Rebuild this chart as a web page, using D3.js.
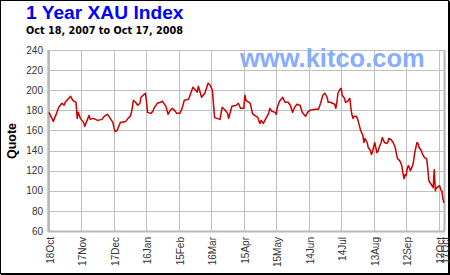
<!DOCTYPE html>
<html>
<head>
<meta charset="utf-8">
<script src="https://cdn.jsdelivr.net/npm/d3@7"></script>
<style>
body { margin: 0; background: #fff; }
svg { display: block; }
.axis text { font-family: "Liberation Sans", Arial, sans-serif; font-size: 10px; fill: #333; }
.axis .domain { display: none; }
.axis line { stroke: #c0c0c0; shape-rendering: crispEdges; }
</style>
</head>
<body>
<div class="chart"></div>
<script>
// XAU index quotes
var dates = [
  "2007-10-18","2007-10-22","2007-10-25","2007-10-27","2007-10-30","2007-11-01","2007-11-02","2007-11-07",
  "2007-11-09","2007-11-12","2007-11-13","2007-11-14","2007-11-16","2007-11-19","2007-11-20","2007-11-24",
  "2007-11-25","2007-11-28","2007-12-02","2007-12-06","2007-12-08","2007-12-11","2007-12-13","2007-12-16",
  "2007-12-17","2007-12-18","2007-12-20","2007-12-21","2007-12-23","2007-12-28","2007-12-30","2008-01-01",
  "2008-01-02","2008-01-03","2008-01-04","2008-01-06","2008-01-08","2008-01-10","2008-01-11","2008-01-13",
  "2008-01-15","2008-01-16","2008-01-17","2008-01-20","2008-01-22","2008-01-23","2008-01-26","2008-01-29",
  "2008-01-31","2008-02-03","2008-02-04","2008-02-05","2008-02-07","2008-02-09","2008-02-11","2008-02-13",
  "2008-02-16","2008-02-18","2008-02-20","2008-02-24","2008-02-28","2008-03-03","2008-03-04","2008-03-07",
  "2008-03-10","2008-03-13","2008-03-15","2008-03-17","2008-03-18","2008-03-19","2008-03-21","2008-03-24",
  "2008-03-26","2008-03-29","2008-03-31","2008-04-01","2008-04-04","2008-04-08","2008-04-10","2008-04-12",
  "2008-04-15","2008-04-16","2008-04-17","2008-04-21","2008-04-23","2008-04-25","2008-04-28","2008-04-29",
  "2008-04-30","2008-05-01","2008-05-03","2008-05-06","2008-05-08","2008-05-09","2008-05-11","2008-05-14",
  "2008-05-15","2008-05-16","2008-05-18","2008-05-21","2008-05-23","2008-05-26","2008-05-28","2008-05-30",
  "2008-06-01","2008-06-03","2008-06-06","2008-06-08","2008-06-11","2008-06-13","2008-06-15","2008-06-20",
  "2008-06-23","2008-06-25","2008-06-27","2008-06-29","2008-07-01","2008-07-02","2008-07-04","2008-07-08",
  "2008-07-09","2008-07-10","2008-07-11","2008-07-13","2008-07-14","2008-07-15","2008-07-17","2008-07-18",
  "2008-07-20","2008-07-22","2008-07-23","2008-07-24","2008-07-25","2008-07-26","2008-07-28","2008-07-29",
  "2008-07-30","2008-08-01","2008-08-03","2008-08-04","2008-08-05","2008-08-07","2008-08-08","2008-08-10",
  "2008-08-11","2008-08-12","2008-08-14","2008-08-15","2008-08-16","2008-08-17","2008-08-18","2008-08-20",
  "2008-08-21","2008-08-23","2008-08-25","2008-08-26","2008-08-27","2008-08-29","2008-08-31","2008-09-02",
  "2008-09-03","2008-09-04","2008-09-06","2008-09-07","2008-09-08","2008-09-09","2008-09-10","2008-09-11",
  "2008-09-12","2008-09-13","2008-09-14","2008-09-15","2008-09-16","2008-09-18","2008-09-19","2008-09-20",
  "2008-09-21","2008-09-22","2008-09-23","2008-09-24","2008-09-26","2008-09-27","2008-09-29","2008-10-01",
  "2008-10-02","2008-10-03","2008-10-06","2008-10-07","2008-10-08","2008-10-09","2008-10-10","2008-10-13",
  "2008-10-14","2008-10-15","2008-10-16","2008-10-17"
];
var quotes = [
  178,169,177,183,187,185,188,194,
  190,188,172,178,172,168,164,175,
  171,172,170,171,174,176,173,168,
  163,159,160,163,168,169,172,174,
  177,183,190,188,185,187,193,195,
  197,190,178,177,179,182,187,188,
  189,184,180,176,180,182,180,177,
  177,182,190,191,203,198,204,193,
  197,207,205,200,186,173,172,171,
  183,180,177,172,184,185,187,182,
  182,195,190,187,177,175,173,169,
  167,170,167,173,177,182,179,178,
  176,183,189,193,188,188,185,178,
  183,186,185,178,174,178,180,181,
  181,187,195,197,193,188,188,186,
  182,188,197,201,202,195,192,188,
  189,192,182,175,172,174,174,172,
  168,160,155,148,152,148,143,140,
  136,139,148,143,138,139,143,148,
  153,148,147,148,152,151,148,143,
  137,132,130,128,125,118,112,116,
  115,122,125,123,120,125,130,138,
  143,148,147,143,140,137,133,132,
  122,110,105,103,121,100,103,105,
  101,100,92,88
];
var yTicks = [60, 80, 100, 120, 140, 160, 180, 200, 220, 240];
var xTickDates = ["2007-10-18","2007-11-17","2007-12-17","2008-01-16","2008-02-15","2008-03-16",
  "2008-04-15","2008-05-15","2008-06-14","2008-07-14","2008-08-13","2008-09-12","2008-10-12","2008-10-17"];

var titleText = "1 Year XAU Index";
var subTitle = "Oct 18, 2007 to Oct 17, 2008";
var yAxisTitle = "Quote";

var W = 450, H = 275;
var margin = {top: 50, right: 6, bottom: 44, left: 49};
var w = W - margin.left - margin.right;
var h = H - margin.top - margin.bottom;

var parse = d3.timeParse("%Y-%m-%d");
var data = dates.map(function(d, i) { return {date: parse(d), close: quotes[i]}; });
var tickDates = xTickDates.map(parse);

var x = d3.scaleTime().domain([parse("2007-10-18"), parse("2008-10-17")]).range([0, w]);
var y = d3.scaleLinear().domain([60, 240]).range([h, 0]);

var svg = d3.select(".chart").append("svg")
  .attr("width", W).attr("height", H);

// frame
svg.append("rect").attr("x", 0.5).attr("y", 0.5).attr("width", W - 2).attr("height", H - 2)
  .attr("fill", "#fff").attr("stroke", "#000").attr("stroke-width", 1);
svg.append("line").attr("x1", W - 0.5).attr("x2", W - 0.5).attr("y1", 1).attr("y2", H)
  .attr("stroke", "#000");
svg.append("line").attr("x1", 1).attr("x2", W).attr("y1", H - 0.5).attr("y2", H - 0.5)
  .attr("stroke", "#000");

svg.append("text").attr("x", 26).attr("y", 19)
  .style("font-family", "'Liberation Sans', Arial, sans-serif")
  .style("font-weight", "bold").style("font-size", "19.2px")
  .attr("fill", "#0000ff").text(titleText);

svg.append("text").attr("x", 26).attr("y", 34)
  .style("font-family", "'DejaVu Sans', Verdana, sans-serif")
  .style("font-weight", "bold").style("font-size", "9.7px")
  .attr("fill", "#000").text(subTitle);

var g = svg.append("g").attr("transform", "translate(" + margin.left + "," + margin.top + ")");

// y grid + labels
var yAxis = d3.axisLeft(y).tickValues(yTicks).tickSizeInner(-w).tickSizeOuter(0).tickPadding(6);
g.append("g").attr("class", "y axis").call(yAxis);

// x grid + rotated labels
var xAxis = d3.axisBottom(x).tickValues(tickDates).tickSizeInner(-h).tickSizeOuter(0)
  .tickPadding(6).tickFormat(d3.timeFormat("%d%b"));
g.append("g").attr("class", "x axis").attr("transform", "translate(0," + h + ")")
  .call(xAxis)
  .selectAll("text")
  .attr("transform", "rotate(-90)")
  .attr("text-anchor", "end")
  .attr("x", -6).attr("y", 0).attr("dy", "0.45em");

// heavier frame of plot
g.append("line").attr("x1", -0.5).attr("x2", -0.5).attr("y1", 0).attr("y2", h + 1)
  .attr("stroke", "#b8b8b8").attr("stroke-width", 2.5);
g.append("line").attr("x1", -1).attr("x2", w + 1).attr("y1", h + 0.5).attr("y2", h + 0.5)
  .attr("stroke", "#b8b8b8").attr("stroke-width", 2);
g.append("line").attr("x1", w + 0.5).attr("x2", w + 0.5).attr("y1", 0).attr("y2", h)
  .attr("stroke", "#b8b8b8").attr("stroke-width", 2);

// watermark
svg.append("text").attr("x", 240).attr("y", 67)
  .style("font-family", "'Liberation Sans', Arial, sans-serif")
  .style("font-weight", "bold").style("font-size", "25.5px")
  .attr("fill", "#86adff").text("www.kitco.com");

var valueline = d3.line()
  .x(function(d) { return x(d.date); })
  .y(function(d) { return y(d.close); });

g.append("path").datum(data)
  .attr("d", valueline)
  .attr("fill", "none")
  .attr("stroke", "#cc0000")
  .attr("stroke-width", 1.5)
  .attr("stroke-linejoin", "round");

svg.append("text")
  .attr("transform", "translate(16,141) rotate(-90)")
  .attr("text-anchor", "middle")
  .style("font-family", "'Liberation Sans', Arial, sans-serif")
  .style("font-weight", "bold").style("font-size", "12.5px")
  .attr("fill", "#000").text(yAxisTitle);
</script>
</body>
</html>
